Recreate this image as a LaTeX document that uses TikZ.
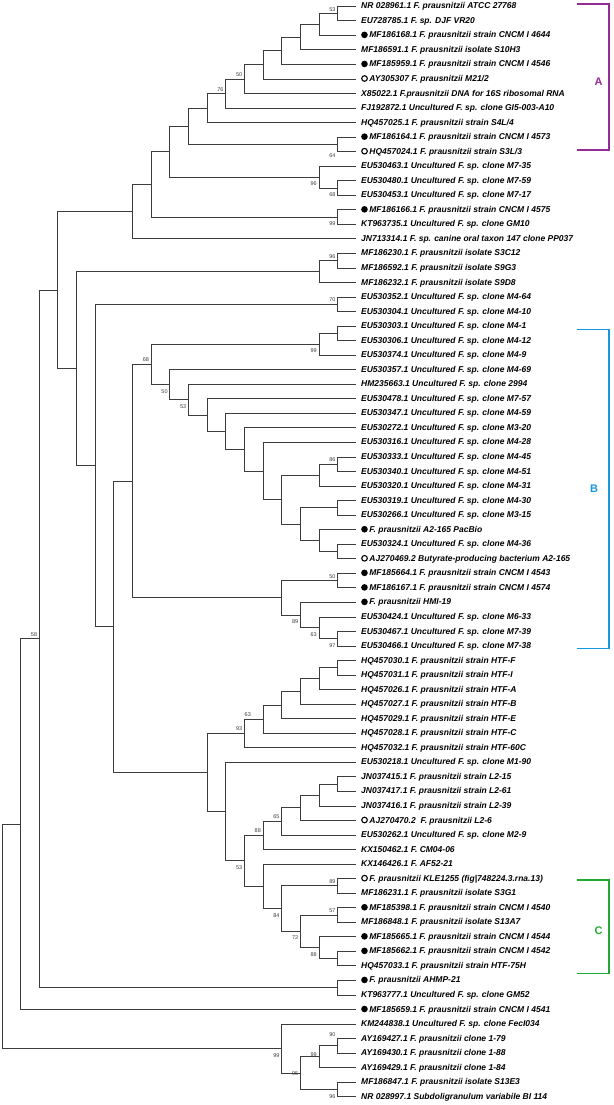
\documentclass[tikz,border=0pt]{standalone}
\usepackage{fontspec}
\setmainfont{Liberation Sans}
\usetikzlibrary{positioning}

\definecolor{treegray}{RGB}{60,60,60}
\definecolor{grpA}{RGB}{150,45,150}
\definecolor{grpB}{RGB}{20,150,225}
\definecolor{grpC}{RGB}{30,170,50}

\newcommand{\fmark}{\tikz[baseline=-3pt]\fill circle (3.3pt);\hspace{1.6pt}}
\newcommand{\omark}{\tikz[baseline=-3pt]\draw[line width=1.1pt] circle (2.8pt);\hspace{1.6pt}}

\begin{document}
\begin{tikzpicture}[x=18.647pt, y=-14.54pt]
\tikzstyle{leaf} = [anchor=west, inner xsep=4.7pt, inner ysep=0pt,
    text height=6pt, text depth=1pt, font=\fontsize{8.5}{10}\selectfont\bfseries\itshape]
\tikzstyle{boot} = [font=\fontsize{5.5}{6}\selectfont, text=treegray, inner sep=0.8pt, xshift=-1.2pt]
\tikzstyle{bup} = [boot, anchor=south east, yshift=1.5pt]
\tikzstyle{bdn} = [boot, anchor=north east, yshift=-3.7pt]
\tikzstyle{branch} = [draw=treegray, line width=0.9pt]
\tikzstyle{group} = [font=\fontsize{11}{12}\selectfont\bfseries]

\useasboundingbox (-0.107,0.567) rectangle (32.82,76.567);

% leaves
\node [leaf] (L1) at (19,1) {NR 028961.1 F. prausnitzii ATCC 27768};
\node [leaf] (L2) at (19,2) {EU728785.1 F. sp. DJF VR20};
\node [leaf] (L3) at (19,3) {\fmark MF186168.1 F. prausnitzii strain CNCM I 4644};
\node [leaf] (L4) at (19,4) {MF186591.1 F. prausnitzii isolate S10H3};
\node [leaf] (L5) at (19,5) {\fmark MF185959.1 F. prausnitzii strain CNCM I 4546};
\node [leaf] (L6) at (19,6) {\omark AY305307 F. prausnitzii M21/2};
\node [leaf] (L7) at (19,7) {X85022.1 F.prausnitzii DNA for 16S ribosomal RNA};
\node [leaf] (L8) at (19,8) {FJ192872.1 Uncultured F. sp. clone GI5-003-A10};
\node [leaf] (L9) at (19,9) {HQ457025.1 F. prausnitzii strain S4L/4};
\node [leaf] (L10) at (19,10) {\fmark MF186164.1 F. prausnitzii strain CNCM I 4573};
\node [leaf] (L11) at (19,11) {\omark HQ457024.1 F. prausnitzii strain S3L/3};
\node [leaf] (L12) at (19,12) {EU530463.1 Uncultured F. sp. clone M7-35};
\node [leaf] (L13) at (19,13) {EU530480.1 Uncultured F. sp. clone M7-59};
\node [leaf] (L14) at (19,14) {EU530453.1 Uncultured F. sp. clone M7-17};
\node [leaf] (L15) at (19,15) {\fmark MF186166.1 F. prausnitzii strain CNCM I 4575};
\node [leaf] (L16) at (19,16) {KT963735.1 Uncultured F. sp. clone GM10};
\node [leaf] (L17) at (19,17) {JN713314.1 F. sp. canine oral taxon 147 clone PP037};
\node [leaf] (L18) at (19,18) {MF186230.1 F. prausnitzii isolate S3C12};
\node [leaf] (L19) at (19,19) {MF186592.1 F. prausnitzii isolate S9G3};
\node [leaf] (L20) at (19,20) {MF186232.1 F. prausnitzii isolate S9D8};
\node [leaf] (L21) at (19,21) {EU530352.1 Uncultured F. sp. clone M4-64};
\node [leaf] (L22) at (19,22) {EU530304.1 Uncultured F. sp. clone M4-10};
\node [leaf] (L23) at (19,23) {EU530303.1 Uncultured F. sp. clone M4-1};
\node [leaf] (L24) at (19,24) {EU530306.1 Uncultured F. sp. clone M4-12};
\node [leaf] (L25) at (19,25) {EU530374.1 Uncultured F. sp. clone M4-9};
\node [leaf] (L26) at (19,26) {EU530357.1 Uncultured F. sp. clone M4-69};
\node [leaf] (L27) at (19,27) {HM235663.1 Uncultured F. sp. clone 2994};
\node [leaf] (L28) at (19,28) {EU530478.1 Uncultured F. sp. clone M7-57};
\node [leaf] (L29) at (19,29) {EU530347.1 Uncultured F. sp. clone M4-59};
\node [leaf] (L30) at (19,30) {EU530272.1 Uncultured F. sp. clone M3-20};
\node [leaf] (L31) at (19,31) {EU530316.1 Uncultured F. sp. clone M4-28};
\node [leaf] (L32) at (19,32) {EU530333.1 Uncultured F. sp. clone M4-45};
\node [leaf] (L33) at (19,33) {EU530340.1 Uncultured F. sp. clone M4-51};
\node [leaf] (L34) at (19,34) {EU530320.1 Uncultured F. sp. clone M4-31};
\node [leaf] (L35) at (19,35) {EU530319.1 Uncultured F. sp. clone M4-30};
\node [leaf] (L36) at (19,36) {EU530266.1 Uncultured F. sp. clone M3-15};
\node [leaf] (L37) at (19,37) {\fmark F. prausnitzii A2-165 PacBio};
\node [leaf] (L38) at (19,38) {EU530324.1 Uncultured F. sp. clone M4-36};
\node [leaf] (L39) at (19,39) {\omark AJ270469.2 Butyrate-producing bacterium A2-165};
\node [leaf] (L40) at (19,40) {\fmark MF185664.1 F. prausnitzii strain CNCM I 4543};
\node [leaf] (L41) at (19,41) {\fmark MF186167.1 F. prausnitzii strain CNCM I 4574};
\node [leaf] (L42) at (19,42) {\fmark F. prausnitzii HMI-19};
\node [leaf] (L43) at (19,43) {EU530424.1 Uncultured F. sp. clone M6-33};
\node [leaf] (L44) at (19,44) {EU530467.1 Uncultured F. sp. clone M7-39};
\node [leaf] (L45) at (19,45) {EU530466.1 Uncultured F. sp. clone M7-38};
\node [leaf] (L46) at (19,46) {HQ457030.1 F. prausnitzii strain HTF-F};
\node [leaf] (L47) at (19,47) {HQ457031.1 F. prausnitzii strain HTF-I};
\node [leaf] (L48) at (19,48) {HQ457026.1 F. prausnitzii strain HTF-A};
\node [leaf] (L49) at (19,49) {HQ457027.1 F. prausnitzii strain HTF-B};
\node [leaf] (L50) at (19,50) {HQ457029.1 F. prausnitzii strain HTF-E};
\node [leaf] (L51) at (19,51) {HQ457028.1 F. prausnitzii strain HTF-C};
\node [leaf] (L52) at (19,52) {HQ457032.1 F. prausnitzii strain HTF-60C};
\node [leaf] (L53) at (19,53) {EU530218.1 Uncultured F. sp. clone M1-90};
\node [leaf] (L54) at (19,54) {JN037415.1 F. prausnitzii strain L2-15};
\node [leaf] (L55) at (19,55) {JN037417.1 F. prausnitzii strain L2-61};
\node [leaf] (L56) at (19,56) {JN037416.1 F. prausnitzii strain L2-39};
\node [leaf] (L57) at (19,57) {\omark AJ270470.2\ \ F. prausnitzii L2-6};
\node [leaf] (L58) at (19,58) {EU530262.1 Uncultured F. sp. clone M2-9};
\node [leaf] (L59) at (19,59) {KX150462.1 F. CM04-06};
\node [leaf] (L60) at (19,60) {KX146426.1 F. AF52-21};
\node [leaf] (L61) at (19,61) {\omark F. prausnitzii KLE1255 (fig|748224.3.rna.13)};
\node [leaf] (L62) at (19,62) {MF186231.1 F. prausnitzii isolate S3G1};
\node [leaf] (L63) at (19,63) {\fmark MF185398.1 F. prausnitzii strain CNCM I 4540};
\node [leaf] (L64) at (19,64) {MF186848.1 F. prausnitzii isolate S13A7};
\node [leaf] (L65) at (19,65) {\fmark MF185665.1 F. prausnitzii strain CNCM I 4544};
\node [leaf] (L66) at (19,66) {\fmark MF185662.1 F. prausnitzii strain CNCM I 4542};
\node [leaf] (L67) at (19,67) {HQ457033.1 F. prausnitzii strain HTF-75H};
\node [leaf] (L68) at (19,68) {\fmark F. prausnitzii AHMP-21};
\node [leaf] (L69) at (19,69) {KT963777.1 Uncultured F. sp. clone GM52};
\node [leaf] (L70) at (19,70) {\fmark MF185659.1 F. prausnitzii strain CNCM I 4541};
\node [leaf] (L71) at (19,71) {KM244838.1 Uncultured F. sp. clone FecI034};
\node [leaf] (L72) at (19,72) {AY169427.1 F. prausnitzii clone 1-79};
\node [leaf] (L73) at (19,73) {AY169430.1 F. prausnitzii clone 1-88};
\node [leaf] (L74) at (19,74) {AY169429.1 F. prausnitzii clone 1-84};
\node [leaf] (L75) at (19,75) {MF186847.1 F. prausnitzii isolate S13E3};
\node [leaf] (L76) at (19,76) {NR 028997.1 Subdoligranulum variabile BI 114};

% inner nodes (x = depth step, y = row)
\coordinate (n1) at (18,1.5);
\coordinate (n2) at (17,2.25);
\coordinate (n3) at (16,3.125);
\coordinate (n4) at (15,4.0625);
\coordinate (n5) at (14,5.031);
\coordinate (n6) at (13,6.016);
\coordinate (n7) at (12,7.008);
\coordinate (n8) at (11,8.004);
\coordinate (n9) at (18,10.5);
\coordinate (n10) at (10,9.252);
\coordinate (n11) at (18,13.5);
\coordinate (n12) at (17,12.75);
\coordinate (n13) at (9,11.001);
\coordinate (n14) at (18,15.5);
\coordinate (n15) at (8,13.25);
\coordinate (n16) at (7,15.125);
\coordinate (n17) at (18,18.5);
\coordinate (n18) at (17,19.25);
\coordinate (n19) at (18,21.5);
\coordinate (n20) at (18,23.5);
\coordinate (n21) at (17,24.25);
\coordinate (n28) at (18,32.5);
\coordinate (n27) at (17,33.25);
\coordinate (n30) at (18,35.5);
\coordinate (n32) at (18,38.5);
\coordinate (n31) at (17,37.75);
\coordinate (n29) at (16,36.625);
\coordinate (n26) at (15,34.938);
\coordinate (n25) at (14,32.969);
\coordinate (n24) at (13,31.484);
\coordinate (n23) at (12,30.242);
\coordinate (n22) at (11,29.121);
\coordinate (n33) at (10,28.06);
\coordinate (n34) at (9,27.03);
\coordinate (n35) at (8,25.64);
\coordinate (n38) at (18,40.5);
\coordinate (n41) at (18,44.5);
\coordinate (n40) at (17,43.75);
\coordinate (n39) at (16,42.875);
\coordinate (n37) at (15,41.688);
\coordinate (n36) at (7,33.66);
\coordinate (n44) at (18,46.5);
\coordinate (n45) at (17,47.25);
\coordinate (n46) at (16,48.125);
\coordinate (n47) at (15,49.063);
\coordinate (n48) at (14,50.031);
\coordinate (n49) at (13,51.016);
\coordinate (n51) at (18,54.5);
\coordinate (n52) at (17,55.25);
\coordinate (n53) at (16,56.125);
\coordinate (n54) at (15,57.063);
\coordinate (n55) at (14,58.031);
\coordinate (n59) at (18,61.5);
\coordinate (n61) at (18,63.5);
\coordinate (n63) at (18,66.5);
\coordinate (n62) at (17,65.75);
\coordinate (n60) at (16,64.625);
\coordinate (n58) at (15,63.063);
\coordinate (n57) at (14,61.53);
\coordinate (n56) at (13,59.78);
\coordinate (n50) at (12,56.39);
\coordinate (n43) at (11,53.70);
\coordinate (n42) at (6,43.68);
\coordinate (n64) at (5,32.59);
\coordinate (n65) at (4,25.92);
\coordinate (n66) at (3,20.52);
\coordinate (n68) at (18,68.5);
\coordinate (n67) at (2,44.51);
\coordinate (n69) at (1,57.26);
\coordinate (n74) at (18,72.5);
\coordinate (n73) at (17,73.25);
\coordinate (n75) at (18,75.5);
\coordinate (n72) at (16,74.375);
\coordinate (n71) at (15,72.69);
\coordinate (n70) at (0,64.97);

% branches
\path [branch] (n1) |- (L1) (n1) |- (L2);
\path [branch] (n2) |- (n1) (n2) |- (L3);
\path [branch] (n3) |- (n2) (n3) |- (L4);
\path [branch] (n4) |- (n3) (n4) |- (L5);
\path [branch] (n5) |- (n4) (n5) |- (L6);
\path [branch] (n6) |- (n5) (n6) |- (L7);
\path [branch] (n7) |- (n6) (n7) |- (L8);
\path [branch] (n8) |- (n7) (n8) |- (L9);
\path [branch] (n9) |- (L10) (n9) |- (L11);
\path [branch] (n10) |- (n8) (n10) |- (n9);
\path [branch] (n11) |- (L13) (n11) |- (L14);
\path [branch] (n12) |- (L12) (n12) |- (n11);
\path [branch] (n13) |- (n10) (n13) |- (n12);
\path [branch] (n14) |- (L15) (n14) |- (L16);
\path [branch] (n15) |- (n13) (n15) |- (n14);
\path [branch] (n16) |- (n15) (n16) |- (L17);
\path [branch] (n17) |- (L18) (n17) |- (L19);
\path [branch] (n18) |- (n17) (n18) |- (L20);
\path [branch] (n19) |- (L21) (n19) |- (L22);
\path [branch] (n20) |- (L23) (n20) |- (L24);
\path [branch] (n21) |- (n20) (n21) |- (L25);
\path [branch] (n28) |- (L32) (n28) |- (L33);
\path [branch] (n27) |- (n28) (n27) |- (L34);
\path [branch] (n30) |- (L35) (n30) |- (L36);
\path [branch] (n32) |- (L38) (n32) |- (L39);
\path [branch] (n31) |- (L37) (n31) |- (n32);
\path [branch] (n29) |- (n30) (n29) |- (n31);
\path [branch] (n26) |- (n27) (n26) |- (n29);
\path [branch] (n25) |- (L31) (n25) |- (n26);
\path [branch] (n24) |- (L30) (n24) |- (n25);
\path [branch] (n23) |- (L29) (n23) |- (n24);
\path [branch] (n22) |- (L28) (n22) |- (n23);
\path [branch] (n33) |- (L27) (n33) |- (n22);
\path [branch] (n34) |- (L26) (n34) |- (n33);
\path [branch] (n35) |- (n21) (n35) |- (n34);
\path [branch] (n38) |- (L40) (n38) |- (L41);
\path [branch] (n41) |- (L44) (n41) |- (L45);
\path [branch] (n40) |- (L43) (n40) |- (n41);
\path [branch] (n39) |- (L42) (n39) |- (n40);
\path [branch] (n37) |- (n38) (n37) |- (n39);
\path [branch] (n36) |- (n35) (n36) |- (n37);
\path [branch] (n44) |- (L46) (n44) |- (L47);
\path [branch] (n45) |- (n44) (n45) |- (L48);
\path [branch] (n46) |- (n45) (n46) |- (L49);
\path [branch] (n47) |- (n46) (n47) |- (L50);
\path [branch] (n48) |- (n47) (n48) |- (L51);
\path [branch] (n49) |- (n48) (n49) |- (L52);
\path [branch] (n51) |- (L54) (n51) |- (L55);
\path [branch] (n52) |- (n51) (n52) |- (L56);
\path [branch] (n53) |- (n52) (n53) |- (L57);
\path [branch] (n54) |- (n53) (n54) |- (L58);
\path [branch] (n55) |- (n54) (n55) |- (L59);
\path [branch] (n59) |- (L61) (n59) |- (L62);
\path [branch] (n61) |- (L63) (n61) |- (L64);
\path [branch] (n63) |- (L66) (n63) |- (L67);
\path [branch] (n62) |- (L65) (n62) |- (n63);
\path [branch] (n60) |- (n61) (n60) |- (n62);
\path [branch] (n58) |- (n59) (n58) |- (n60);
\path [branch] (n57) |- (L60) (n57) |- (n58);
\path [branch] (n56) |- (n55) (n56) |- (n57);
\path [branch] (n50) |- (L53) (n50) |- (n56);
\path [branch] (n43) |- (n49) (n43) |- (n50);
\path [branch] (n42) |- (n36) (n42) |- (n43);
\path [branch] (n64) |- (n19) (n64) |- (n42);
\path [branch] (n65) |- (n18) (n65) |- (n64);
\path [branch] (n66) |- (n16) (n66) |- (n65);
\path [branch] (n68) |- (L68) (n68) |- (L69);
\path [branch] (n67) |- (n66) (n67) |- (n68);
\path [branch] (n69) |- (n67) (n69) |- (L70);
\path [branch] (n74) |- (L72) (n74) |- (L73);
\path [branch] (n73) |- (n74) (n73) |- (L74);
\path [branch] (n75) |- (L75) (n75) |- (L76);
\path [branch] (n72) |- (n73) (n72) |- (n75);
\path [branch] (n71) |- (L71) (n71) |- (n72);
\path [branch] (n70) |- (n69) (n70) |- (n71);

% bootstrap values
\node [bup] (s1) at (n1) {53};
\node [bup] (s2) at (n6) {50};
\node [bup] (s3) at (n7) {76};
\node [bdn, yshift=-4.5pt] (s4) at (n9) {64};
\node [bdn] (s5) at (n12) {96};
\node [bdn] (s6) at (n11) {68};
\node [bdn] (s7) at (n14) {99};
\node [bup] (s8) at (n17) {96};
\node [bup] (s9) at (n19) {70};
\node [bdn] (s10) at (n21) {99};
\node [bup] (s11) at (n35) {68};
\node [bdn] (s12) at (n34) {50};
\node [bdn] (s13) at (n33) {53};
\node [bup] (s14) at (n28) {86};
\node [bup] (s15) at (n38) {50};
\node [bdn] (s16) at (n39) {89};
\node [bdn] (s17) at (n40) {63};
\node [bdn] (s18) at (n41) {97};
\node [bup] (s19) at (n67) {58};
\node [bup, xshift=-10pt] (s20) at (n48) {63};
\node [bup] (s21) at (n49) {93};
\node [bup] (s22) at (n54) {65};
\node [bup] (s23) at (n55) {88};
\node [bdn] (s24) at (n56) {53};
\node [bup] (s25) at (n59) {89};
\node [bdn] (s26) at (n58) {84};
\node [bup] (s27) at (n61) {57};
\node [bdn] (s28) at (n60) {72};
\node [bdn] (s29) at (n62) {88};
\node [bdn] (s30) at (n71) {99};
\node [bup, yshift=-2pt] (s31) at (n73) {99};
\node [bup, yshift=7pt] (s32) at (n74) {90};
\node [boot, anchor=east] (s33) at (n72) {95};
\node [bdn] (s34) at (n75) {96};

% clusters
\draw [grpA, line width=1.3pt] (30.84,0.842) -- (32.55,0.842) -- (32.55,10.88) -- (30.84,10.88);
\draw [grpB, line width=1.3pt] (30.84,23.21) -- (32.55,23.21) -- (32.55,45.15) -- (30.84,45.15);
\draw [grpC, line width=1.3pt] (30.84,61.09) -- (32.55,61.09) -- (32.55,67.51) -- (30.84,67.51);
\node [group, text=grpA] (gA) at (32.0,6.2) {A};
\node [group, text=grpB] (gB) at (31.75,34.2) {B};
\node [group, text=grpC] (gC) at (32.0,64.6) {C};
\end{tikzpicture}
\end{document}
